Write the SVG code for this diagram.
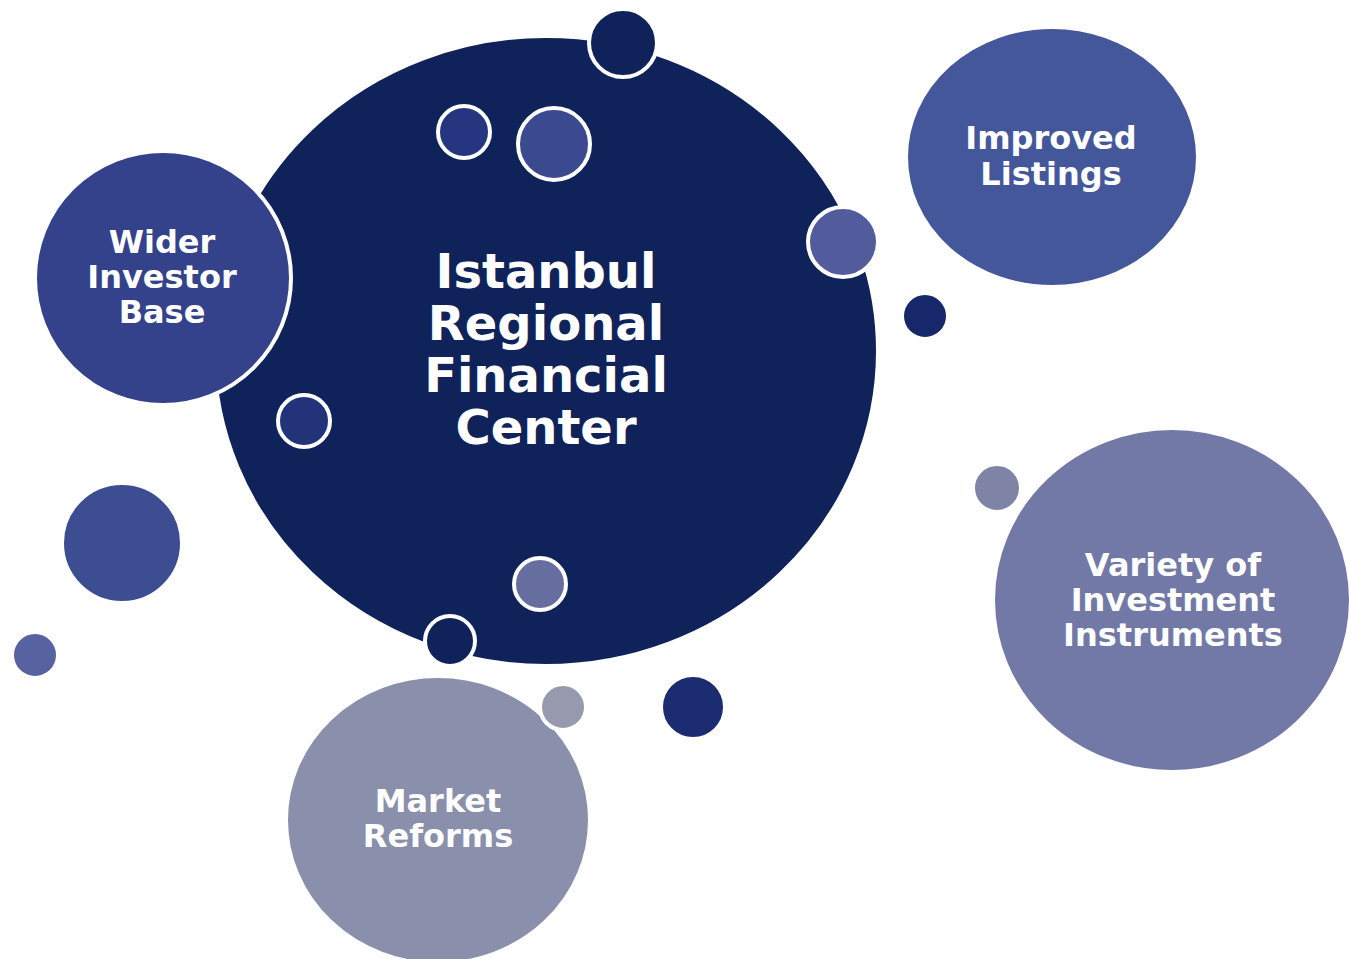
<svg xmlns="http://www.w3.org/2000/svg" width="1349" height="959" viewBox="0 0 1349 959">
  <style>
    .hub { stroke: #ffffff; stroke-width: 4; }
    .sat { stroke: #ffffff; stroke-width: 4; }
    .dot { stroke: #ffffff; stroke-width: 4; }
    .label { font-family: "DejaVu Sans", Verdana, sans-serif; font-weight: bold; fill: #ffffff; text-anchor: middle; }
    .big { font-size: 48px; }
    .small { font-size: 32px; }
  </style>
  <rect width="1349" height="959" fill="#ffffff"/>

  <!-- central hub -->
  <g id="hub">
    <ellipse class="hub" cx="546" cy="351" rx="332" ry="315" fill="#0f2259"/>
    <text class="label big" x="546" y="288">Istanbul</text>
    <text class="label big" x="546" y="340">Regional</text>
    <text class="label big" x="546" y="392">Financial</text>
    <text class="label big" x="546" y="444">Center</text>
  </g>

  <!-- satellite topics -->
  <g id="wider-investor-base">
    <ellipse class="sat" cx="163" cy="278" rx="128" ry="127" fill="#33428a"/>
    <text class="label small" x="162" y="253">Wider</text>
    <text class="label small" x="162" y="288">Investor</text>
    <text class="label small" x="162" y="323">Base</text>
  </g>

  <g id="improved-listings">
    <ellipse class="sat" cx="1052" cy="157" rx="146" ry="130" fill="#45579b"/>
    <text class="label small" x="1051" y="149">Improved</text>
    <text class="label small" x="1051" y="185">Listings</text>
  </g>

  <g id="variety-of-investment-instruments">
    <ellipse class="sat" cx="1172" cy="600" rx="179" ry="172" fill="#7379a6"/>
    <text class="label small" x="1173" y="576">Variety of</text>
    <text class="label small" x="1173" y="611">Investment</text>
    <text class="label small" x="1173" y="646">Instruments</text>
  </g>

  <g id="market-reforms">
    <ellipse class="sat" cx="438" cy="820" rx="152" ry="144" fill="#8a8fab"/>
    <text class="label small" x="438" y="812">Market</text>
    <text class="label small" x="438" y="847">Reforms</text>
  </g>

  <!-- decorative bubbles -->
  <g id="bubbles">
    <circle class="dot" cx="623" cy="43" r="34" fill="#0f2259"/>
    <circle class="dot" cx="464" cy="132" r="26" fill="#263580"/>
    <circle class="dot" cx="554" cy="144" r="36" fill="#3b4a8f"/>
    <circle class="dot" cx="843" cy="242" r="35" fill="#525b9c"/>
    <circle class="dot" cx="925" cy="316" r="23" fill="#16286a"/>
    <circle class="dot" cx="304" cy="421" r="26" fill="#23337a"/>
    <circle class="dot" cx="122" cy="543" r="60" fill="#3c4e91"/>
    <circle class="dot" cx="35" cy="655" r="23" fill="#5762a0"/>
    <circle class="dot" cx="540" cy="584" r="26" fill="#666ea0"/>
    <circle class="dot" cx="450" cy="641" r="25" fill="#0f2259"/>
    <circle class="dot" cx="563" cy="707" r="23" fill="#979aae"/>
    <circle class="dot" cx="693" cy="707" r="32" fill="#1b2d70"/>
    <circle class="dot" cx="997" cy="488" r="24" fill="#7f84a7"/>
  </g>

  <!-- no connectors in this layout -->
  <g id="connectors"/>
</svg>
